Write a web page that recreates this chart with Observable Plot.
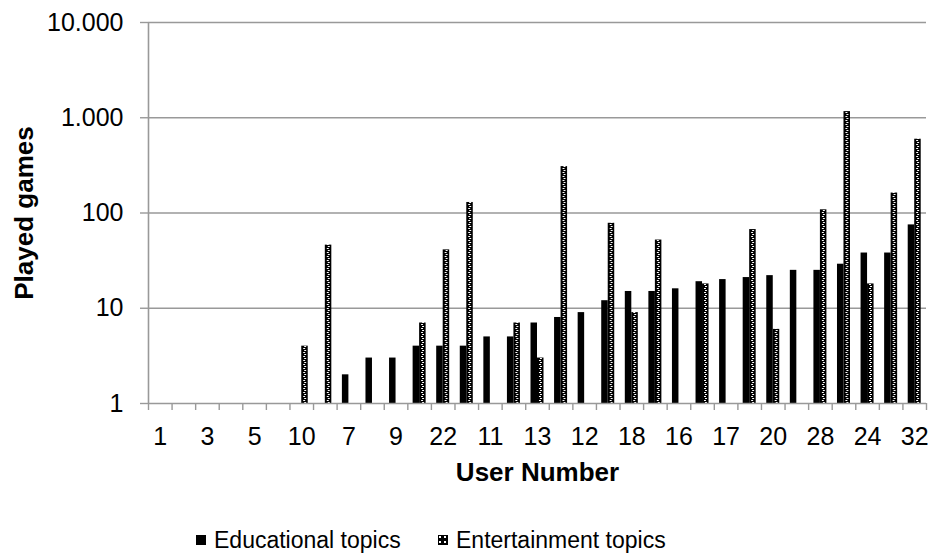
<!DOCTYPE html>
<html>
<head>
<meta charset="utf-8">
<script src="https://cdn.jsdelivr.net/npm/d3@7"></script>
<script src="https://cdn.jsdelivr.net/npm/@observablehq/plot@0.6"></script>
<style>
  body { margin: 0; background: #fff; font-family: "Liberation Sans", Arial, sans-serif; }
  #wrap { position: relative; width: 928px; height: 557px; overflow: hidden; }
  .leg { position: absolute; top: 526px; height: 28px; display: flex; align-items: center; font-size: 23px; color: #000; white-space: nowrap; }
  .leg svg { margin-right: 8px; }
</style>
</head>
<body>
<div id="wrap"></div>
<script>
// ---- data ----
const users = ["1","2","3","4","5","6","10","8","7","14","9","15","22","19","11","21","13","23","12","25","18","26","16","27","17","29","20","30","28","31","24","33","32"];
const educational = [0,0,0,0,0,0,0,0,2,3,3,4,4,4,5,5,7,8,9,12,15,15,16,19,20,21,22,25,25,29,38,38,75];
const entertainment = [0,0,0,0,0,0,4,46,0,0,0,7,41,129,0,7,3,307,0,78,9,52,0,18,0,67,6,0,108,1160,18,162,595];
const yTicks = [1, 10, 100, 1000, 10000];
const yTickLabels = ["1", "10", "100", "1.000", "10.000"];
const seriesNames = ["Educational topics", "Entertainment topics"];

const eduData = users.map((u, i) => ({user: u, value: educational[i]})).filter(d => d.value > 0);
const entData = users.map((u, i) => ({user: u, value: entertainment[i]})).filter(d => d.value > 0);

const W = 928, H = 490, ML = 148, MR = 2, MT = 22, MB = 87;
const step = (W - ML - MR) / users.length;
const barW = 6.5;
const grey = "#999";

const chart = Plot.plot({
  width: W, height: H,
  marginLeft: ML, marginRight: MR, marginTop: MT, marginBottom: MB,
  style: {fontFamily: '"Liberation Sans", Arial, sans-serif', fontSize: "25px", color: "#000", background: "#fff", overflow: "visible"},
  x: {type: "band", domain: users, padding: 0, round: false},
  y: {type: "log", domain: [1, 10000]},
  marks: [
    Plot.ruleY(yTicks.slice(1), {stroke: grey, strokeWidth: 1.4}),
    Plot.barY(eduData, {x: "user", y1: 1, y2: "value", fill: "#000", insetLeft: step / 2 - barW, insetRight: step / 2}),
    Plot.barY(entData, {x: "user", y1: 1, y2: "value", fill: "url(#entPattern)", insetLeft: step / 2, insetRight: step / 2 - barW}),
    Plot.ruleY([1], {stroke: grey, strokeWidth: 1.6}),
    Plot.ruleX([users[0]], {y1: 1, y2: 10000, dx: -step / 2, stroke: grey, strokeWidth: 1.6}),
    Plot.axisX({tickSize: 7, tickFormat: () => null, dx: -step / 2, stroke: grey, strokeWidth: 1.4, label: null}),
    Plot.axisX([users[users.length - 1]], {tickSize: 7, tickFormat: () => null, dx: step / 2, stroke: grey, strokeWidth: 1.4, label: null}),
    Plot.axisX({tickSize: 0, tickPadding: 24, tickFormat: (d) => (users.indexOf(d) % 2 === 0 ? d : null), fontSize: 25, fill: "#000", label: null}),
    Plot.axisY(yTicks, {tickSize: 8, tickPadding: 17, tickFormat: d => yTickLabels[yTicks.indexOf(d)], stroke: grey, strokeWidth: 1.4, fill: "#000", fontSize: 25, label: null}),
    Plot.text(["User Number"], {frameAnchor: "bottom", dy: 69, fontWeight: "bold", fontSize: 26, lineAnchor: "middle", textAnchor: "middle", fill: "#000"}),
    Plot.text(["Played games"], {frameAnchor: "left", dx: -124, rotate: -90, fontWeight: "bold", fontSize: 26, lineAnchor: "middle", textAnchor: "middle", fill: "#000"})
  ]
});

// checker-like fill pattern aligned with the entertainment bars
const xs = chart.scale("x");
const patX = xs.apply(users[0]) + step / 2;
const defs = d3.select(chart).insert("defs", ":first-child");
function addPattern(sel, id, x, w) {
  const p = sel.append("pattern").attr("id", id).attr("patternUnits", "userSpaceOnUse")
    .attr("x", x).attr("y", 0).attr("width", w).attr("height", 4);
  p.append("rect").attr("width", w).attr("height", 4).attr("fill", "#000");
  p.append("rect").attr("x", 2).attr("y", 0).attr("width", 2).attr("height", 1).attr("fill", "#fff").attr("shape-rendering", "crispEdges");
  p.append("rect").attr("x", 3).attr("y", 2).attr("width", 2).attr("height", 1).attr("fill", "#fff").attr("shape-rendering", "crispEdges");
}
addPattern(defs, "entPattern", patX, step);

const wrap = document.getElementById("wrap");
wrap.appendChild(chart);

// legend below the chart
const legPos = [196, 438];
seriesNames.forEach((name, i) => {
  const div = document.createElement("div");
  div.className = "leg";
  div.style.left = legPos[i] + "px";
  const sw = d3.create("svg").attr("width", 10).attr("height", 10);
  if (i === 0) {
    sw.append("rect").attr("width", 10).attr("height", 10).attr("fill", "#000");
  } else {
    const d = sw.append("defs");
    const p = d.append("pattern").attr("id", "legPat").attr("patternUnits", "userSpaceOnUse").attr("width", 5).attr("height", 5);
    p.append("rect").attr("width", 5).attr("height", 5).attr("fill", "#000");
    p.append("rect").attr("x", 1).attr("y", 1).attr("width", 2).attr("height", 2).attr("fill", "#fff");
    sw.append("rect").attr("width", 10).attr("height", 10).attr("fill", "url(#legPat)");
  }
  div.appendChild(sw.node());
  const t = document.createElement("span");
  t.textContent = name;
  div.appendChild(t);
  wrap.appendChild(div);
});
</script>
</body>
</html>
